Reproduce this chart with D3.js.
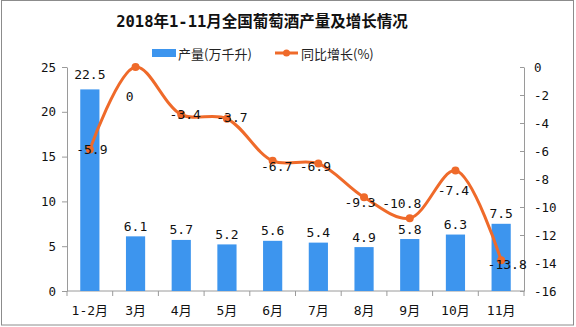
<!DOCTYPE html>
<html>
<head>
<meta charset="utf-8">
<script src="https://cdn.jsdelivr.net/npm/d3@7"></script>
<style>
  html, body { margin: 0; padding: 0; background: #fff; }
  svg { display: block; }
</style>
</head>
<body>
<script>
// Wine output by month, 2018
const categories = ["1-2月", "3月", "4月", "5月", "6月", "7月", "8月", "9月", "10月", "11月"];
const output = [22.5, 6.1, 5.7, 5.2, 5.6, 5.4, 4.9, 5.8, 6.3, 7.5];      // 万千升
const growth = [-5.9, 0, -3.4, -3.7, -6.7, -6.9, -9.3, -10.8, -7.4, -13.8]; // %
const leftTicks = [0, 5, 10, 15, 20, 25];
const rightTicks = [0, -2, -4, -6, -8, -10, -12, -14, -16];
const titleText = "2018年1-11月全国葡萄酒产量及增长情况";
const legendBar = "产量(万千升)";
const legendLine = "同比增长(%)";

(function () {
const W = 576, H = 327;
const plotL = 67, plotR = 524, plotT = 67, plotB = 291;
const barColor = "#3d95ee";
const lineColor = "#ef6a2a";
const axisColor = "#9a9a9a";
const numFont = "'DejaVu Sans Mono', 'Noto Sans CJK SC', monospace";
const cjkFont = "'Noto Sans CJK SC', sans-serif";

const svg = d3.select("body").append("svg").attr("width", W).attr("height", H);

// outer frame
svg.append("rect").attr("x", 1.5).attr("y", 0.5).attr("width", 572).attr("height", 324.5)
  .attr("fill", "#fff").attr("stroke", "#8c8c8c").attr("stroke-width", 1);

const x = d3.scaleBand().domain(categories).range([plotL, plotR]).paddingInner(0.58).paddingOuter(0.29);
const yL = d3.scaleLinear().domain([0, 25]).range([plotB, plotT]);
const yR = d3.scaleLinear().domain([-16, 0]).range([plotB, plotT]);

// title
svg.append("text").attr("x", 262).attr("y", 22).attr("text-anchor", "middle")
  .attr("dominant-baseline", "central")
  .style("font-family", "'DejaVu Sans Mono', 'Noto Sans CJK SC', serif")
  .style("font-weight", "bold").style("font-size", "15.5px").attr("fill", "#111")
  .text(titleText);

// legend
const lg = svg.append("g");
lg.append("rect").attr("x", 152).attr("y", 49).attr("width", 24).attr("height", 8).attr("fill", barColor);
lg.append("text").attr("x", 178).attr("y", 53).attr("dominant-baseline", "central")
  .style("font-family", cjkFont).style("font-size", "13px").attr("fill", "#222").text(legendBar);
lg.append("line").attr("x1", 275).attr("x2", 298).attr("y1", 53).attr("y2", 53)
  .attr("stroke", lineColor).attr("stroke-width", 3);
lg.append("circle").attr("cx", 286.5).attr("cy", 53).attr("r", 3.5).attr("fill", lineColor);
lg.append("text").attr("x", 301).attr("y", 53).attr("dominant-baseline", "central")
  .style("font-family", cjkFont).style("font-size", "13px").attr("fill", "#222").text(legendLine);

// axes
function styleAxis(g) {
  g.selectAll("path").attr("stroke", axisColor);
  g.selectAll("line").attr("stroke", axisColor);
  g.selectAll("text").attr("fill", "#111").style("font-family", numFont).style("font-size", "12.5px");
}

const gL = svg.append("g").attr("transform", `translate(${plotL},0)`)
  .call(d3.axisLeft(yL).tickValues(leftTicks).tickSize(5).tickSizeOuter(0).tickPadding(6));
styleAxis(gL);

const gR = svg.append("g").attr("transform", `translate(${plotR},0)`)
  .call(d3.axisRight(yR).tickValues(rightTicks).tickSize(-4).tickSizeOuter(0).tickPadding(10)
    .tickFormat(d => d === 0 ? "0" : "-" + Math.abs(d)));
styleAxis(gR);

const gB = svg.append("g").attr("transform", `translate(0,${plotB})`);
gB.append("line").attr("x1", plotL).attr("x2", plotR).attr("y1", 0).attr("y2", 0).attr("stroke", axisColor);
const bounds = d3.range(categories.length + 1).map(i => plotL + i * (plotR - plotL) / categories.length);
gB.selectAll("line.tick").data(bounds).join("line").attr("class", "tick")
  .attr("x1", d => d).attr("x2", d => d).attr("y1", 0).attr("y2", 5).attr("stroke", axisColor);
gB.selectAll("text").data(categories).join("text")
  .attr("x", d => x(d) + x.bandwidth() / 2).attr("y", 19)
  .attr("text-anchor", "middle").attr("dominant-baseline", "central")
  .style("font-family", numFont).style("font-size", "13px").attr("fill", "#111")
  .text(d => d);

// bars
svg.append("g").selectAll("rect").data(output).join("rect")
  .attr("x", (d, i) => x(categories[i]))
  .attr("width", x.bandwidth())
  .attr("y", d => yL(d))
  .attr("height", d => yL(0) - yL(d))
  .attr("fill", barColor);

svg.append("g").selectAll("text").data(output).join("text")
  .attr("x", (d, i) => x(categories[i]) + x.bandwidth() / 2)
  .attr("y", (d, i) => yL(d) - (i === 0 ? 15 : 10))
  .attr("text-anchor", "middle").attr("dominant-baseline", "central")
  .style("font-family", numFont).style("font-size", "13px").attr("fill", "#111")
  .text(d => d.toFixed(1));

// growth line
const pts = growth.map((v, i) => [x(categories[i]) + x.bandwidth() / 2, yR(v)]);
svg.append("path").datum(pts)
  .attr("d", d3.line().curve(d3.curveCatmullRom.alpha(0.5)))
  .attr("fill", "none").attr("stroke", lineColor).attr("stroke-width", 3);
svg.append("g").selectAll("circle").data(pts).join("circle")
  .attr("cx", d => d[0]).attr("cy", d => d[1]).attr("r", 4).attr("fill", lineColor);

// growth labels, nudged to stay clear of the curve
const labelNudge = [[2, 0], [-6, 29], [4, 0], [5, -1], [4, 6], [-3, 3], [-4, 5], [-8, -15], [-2, 20], [6, 4]];
svg.append("g").selectAll("text").data(growth).join("text")
  .attr("x", (d, i) => pts[i][0] + labelNudge[i][0])
  .attr("y", (d, i) => pts[i][1] + labelNudge[i][1])
  .attr("text-anchor", "middle").attr("dominant-baseline", "central")
  .style("font-family", numFont).style("font-size", "13px").attr("fill", "#111")
  .text(d => d === 0 ? "0" : d.toFixed(1));
})();
</script>
</body>
</html>
